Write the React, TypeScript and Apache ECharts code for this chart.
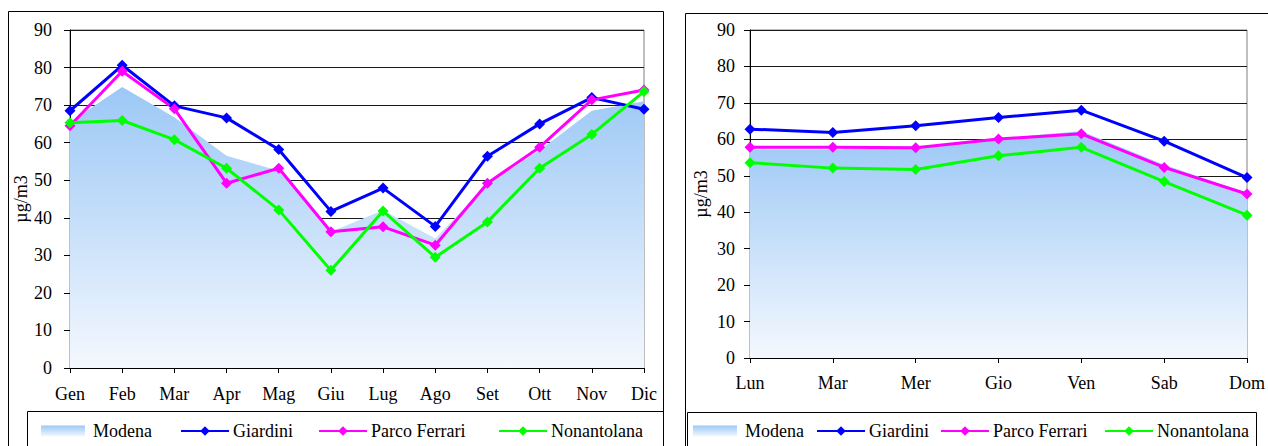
import React, { useEffect, useRef } from "react";
import * as echarts from "echarts";

const months = ["Gen", "Feb", "Mar", "Apr", "Mag", "Giu", "Lug", "Ago", "Set", "Ott", "Nov", "Dic"];
const modenaMonth = [65.5, 74.8, 66.8, 56.5, 52.5, 36.3, 42, 34.5, 49, 58, 68.5, 71];
const giardiniMonth = [68.5, 80.6, 69.8, 66.6, 58.2, 41.7, 47.9, 37.7, 56.4, 65, 72, 68.9];
const ferrariMonth = [64.5, 79, 69, 49.2, 53.2, 36.3, 37.6, 32.7, 49.2, 58.8, 71.4, 74];
const nonantolanaMonth = [65.3, 65.9, 60.8, 53.2, 42.1, 26, 41.8, 29.5, 38.9, 53.2, 62.2, 73.6];

const days = ["Lun", "Mar", "Mer", "Gio", "Ven", "Sab", "Dom"];
const modenaDay = [57.2, 57.2, 57.7, 60.3, 62.2, 53, 45.3];
const giardiniDay = [62.8, 61.9, 63.7, 66, 68, 59.5, 49.5];
const ferrariDay = [57.8, 57.8, 57.7, 60.1, 61.5, 52.3, 45];
const nonantolanaDay = [53.6, 52.1, 51.7, 55.5, 57.8, 48.4, 39.2];

const yTicks = { min: 0, max: 90, interval: 10 };
const unitLabel = "µg/m3";
const seriesNames = ["Modena", "Giardini", "Parco Ferrari", "Nonantolana"];

const FONT = "'Liberation Serif', 'Times New Roman', serif";
const colors = { Giardini: "#0000FF", "Parco Ferrari": "#FF00FF", Nonantolana: "#00FF00" };

const areaGradient = () =>
  new echarts.graphic.LinearGradient(0, 0, 0, 1, [
    { offset: 0, color: "#9CC8F6" },
    { offset: 1, color: "#F4F8FE" },
  ]);

export default function App() {
  const ref = useRef<HTMLDivElement>(null);
  useEffect(() => {
    if (!ref.current) return;
    const chart = echarts.init(ref.current, undefined, { renderer: "svg" });

    const makeX = (data: string[], gridIndex: number, margin: number) => ({
      type: "category",
      gridIndex,
      data,
      boundaryGap: false,
      axisLine: { show: true, lineStyle: { color: "#000", width: 1 } },
      axisTick: { show: true, length: 5, lineStyle: { color: "#000" } },
      axisLabel: { color: "#000", fontFamily: FONT, fontSize: 18, margin },
      splitLine: { show: false },
    });
    const makeY = (gridIndex: number, nameGap: number, margin: number) => ({
      type: "value",
      gridIndex,
      min: yTicks.min,
      max: yTicks.max,
      interval: yTicks.interval,
      name: unitLabel,
      nameLocation: "middle",
      nameRotate: 90,
      nameGap,
      nameTextStyle: { color: "#000", fontFamily: FONT, fontSize: 18 },
      axisLine: { show: true, lineStyle: { color: "#000", width: 1 } },
      axisTick: { show: true, length: 6, lineStyle: { color: "#000" } },
      axisLabel: { color: "#000", fontFamily: FONT, fontSize: 18, margin },
      splitLine: { show: true, lineStyle: { color: "#1a1a1a", width: 1 } },
    });

    const areaSeries = (data: number[], idx: number) => ({
      name: "Modena",
      type: "line",
      xAxisIndex: idx,
      yAxisIndex: idx,
      data,
      showSymbol: false,
      symbol: "none",
      lineStyle: { width: 0, color: "#9CC8F6" },
      itemStyle: { color: "#9CC8F6" },
      areaStyle: { color: areaGradient(), opacity: 1 },
      z: 1,
    });
    const lineSeries = (name: string, data: number[], idx: number) => ({
      name,
      type: "line",
      xAxisIndex: idx,
      yAxisIndex: idx,
      data,
      symbol: "diamond",
      symbolSize: 11,
      lineStyle: { width: 3, color: (colors as any)[name] },
      itemStyle: { color: (colors as any)[name] },
      z: 3,
    });

    const legendAt = (name: string, left: number, top: number) => {
      const isArea = name === "Modena";
      return {
        data: [
          isArea
            ? { name, icon: "rect", itemStyle: { color: areaGradient() } }
            : { name },
        ],
        left,
        top,
        padding: 0,
        itemWidth: isArea ? 44 : 48,
        itemHeight: isArea ? 11 : 12,
        itemGap: 0,
        textStyle: {
          color: "#000",
          fontFamily: FONT,
          fontSize: 18,
          padding: [0, 0, 0, isArea ? 3 : -1],
        },
        selectedMode: false,
      };
    };

    const option: any = {
      animation: false,
      backgroundColor: "#fff",
      textStyle: { fontFamily: FONT },
      grid: [
        { left: 70, top: 30, width: 574, height: 338, show: true, borderColor: "#808080", borderWidth: 1, backgroundColor: "transparent" },
        { left: 750, top: 30, width: 504, height: 328, show: true, borderColor: "#808080", borderWidth: 1, backgroundColor: "transparent" },
      ],
      xAxis: [makeX(months, 0, 17), makeX(days, 1, 16)],
      yAxis: [makeY(0, 38, 18), makeY(1, 40, 15)],
      legend: [
        legendAt(seriesNames[0], 41, 422),
        legendAt(seriesNames[1], 180, 422),
        legendAt(seriesNames[2], 318, 422),
        legendAt(seriesNames[3], 498, 422),
        legendAt(seriesNames[0], 693, 422),
        legendAt(seriesNames[1], 816, 422),
        legendAt(seriesNames[2], 940, 422),
        legendAt(seriesNames[3], 1104, 422),
      ],
      graphic: [
        { type: "rect", shape: { x: 8.5, y: 11.5, width: 655, height: 460 }, style: { fill: "none", stroke: "#000", lineWidth: 1 }, silent: true },
        { type: "rect", shape: { x: 685.5, y: 13.5, width: 640, height: 460 }, style: { fill: "none", stroke: "#000", lineWidth: 1 }, silent: true },
        { type: "rect", shape: { x: 27.5, y: 411.5, width: 636, height: 60 }, style: { fill: "none", stroke: "#000", lineWidth: 1 }, silent: true },
        { type: "rect", shape: { x: 687.5, y: 412.5, width: 569, height: 60 }, style: { fill: "none", stroke: "#000", lineWidth: 1 }, silent: true },
      ],
      series: [
        areaSeries(modenaMonth, 0),
        lineSeries("Giardini", giardiniMonth, 0),
        lineSeries("Parco Ferrari", ferrariMonth, 0),
        lineSeries("Nonantolana", nonantolanaMonth, 0),
        areaSeries(modenaDay, 1),
        lineSeries("Giardini", giardiniDay, 1),
        lineSeries("Parco Ferrari", ferrariDay, 1),
        lineSeries("Nonantolana", nonantolanaDay, 1),
      ],
    };
    chart.setOption(option);
    return () => chart.dispose();
  }, []);

  return (
    <div
      ref={ref}
      style={{ position: "fixed", left: 0, top: 0, width: 1268, height: 446 }}
    />
  );
}
